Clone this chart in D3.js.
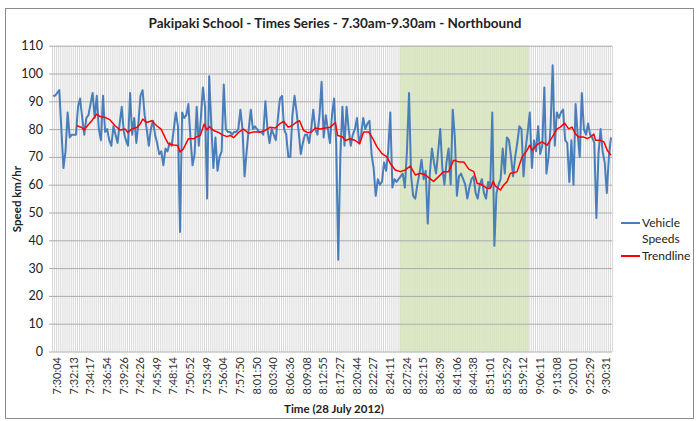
<!DOCTYPE html>
<html><head><meta charset="utf-8">
<script src="https://cdn.jsdelivr.net/npm/d3@7"></script>
<style>body{margin:0;background:#fff;} svg{display:block;font-family:Lato,"Open Sans",sans-serif;}</style>
</head><body>
<svg id="c" width="699" height="421"></svg>
<script>
// Vehicle speeds (km/hr), one per vehicle, in time order
const speeds = [92,92,93,94,80,66,72,86,77,78,78,78,88,91,84,78,84,85,89,93,
84,92,80,76,92,79,80,76,74,81,78,75,82,88,79,76,74,93,78,84,
75,82,92,94,85,80,74,80,83,78,75,71,72,67,73,72,75,74,80,86,
81,43,86,84,85,89,77,67,71,88,74,84,95,88,55,99,82,66,77,65,
70,72,96,80,79,79,78,79,79,80,87,80,63,72,80,87,80,81,80,79,
79,78,90,80,75,80,78,76,84,91,92,80,78,70,70,85,92,86,79,71,
75,78,78,75,80,87,80,78,85,97,77,85,80,75,85,91,75,33,70,88,
74,88,80,74,78,80,84,75,78,84,80,82,83,71,66,56,62,60,61,68,
65,72,86,59,62,61,62,63,64,59,72,93,63,56,55,60,64,69,62,65,
46,64,73,68,64,72,80,66,60,68,73,60,87,77,56,63,64,62,60,55,
59,62,63,57,55,60,62,57,55,61,59,86,38,57,60,62,73,64,77,76,
70,63,70,75,81,80,63,73,79,86,66,76,72,81,71,74,95,64,70,81,
103,74,86,84,86,87,76,75,61,76,60,89,78,70,93,80,78,82,78,77,
75,48,71,80,72,68,57,70,77];
// Trendline (moving average) read at sampled category indices
const trendIdx = [11.4,13.8,14.9,16.5,18.6,21,22.6,25,27.4,29.8,32.2,34.6,35.9,37.8,40.2,41.8,43.1,45,47.4,49.8,
51.9,54.1,55.4,57.8,59.9,61,62.6,65,67.5,69.1,70.7,72.6,73.9,75.1,77.1,79.5,81.1,83.5,85.1,86.7,
89.1,91.5,93.9,96.3,99.5,101.9,104.3,106.7,109.1,110.7,113,114.7,116.8,118.4,120.4,122.3,124.3,125.9,128.3,130.8,
133.2,135.6,136.7,138.8,140.4,142.8,145.2,147.3,149.2,151.6,153.7,155.6,158,160.4,162,164.4,166.8,169.2,171.6,174,
176.4,178.8,180.9,182.8,185.2,187.6,190,192.4,194.9,197.3,199.7,202.1,203.7,206.1,208.5,210.1,211.4,212.5,214.9,216.5,
218.1,219.7,221.3,222.9,225.3,227.7,229,230.1,232.5,234.9,237.3,239.7,242.1,243.7,245.7,247.7,249.3,250.9,252.5,254.6,
256.6,258.2,259.8,260.6,262.7,264.6,266.2,268];
const trendVals = [81.2,80.6,79.7,81.2,83,85.4,84.5,84.2,83.3,81.2,79.7,80,78.8,80,80.6,81.8,83.6,82.4,83,81.2,
80,76.5,74.7,74.3,74.1,71.8,72.9,76.5,76.5,77.3,77.7,81.8,79.7,80.9,79.5,78.8,78,77.3,77.7,76.9,
78.8,80,78.5,79,79,79.5,80.7,80.4,82,82.8,80.7,81.2,82.4,83,79.5,78.7,79,80.4,80,80.4,
80.7,82.4,77.7,77.3,75.9,76.5,75.9,74.7,79,79,76.5,73.6,71.2,70,67.6,65.3,64.7,65.3,66.7,63.5,
64.1,63.5,62.3,61.2,62.9,64.7,64.7,68.8,68.2,68.2,65.6,64.7,60.5,59.9,58.7,58.7,61.2,59.5,58.1,59.9,
61.1,64.1,64.3,64.7,70,72.4,74.2,72.4,74.4,75.4,74.2,77,80.1,80.7,82.2,80.1,80.7,78.3,77.2,77.2,
76.6,77.2,78.2,76,76,75.4,72.4,70.6];
// Category axis labels (every 8th vehicle)
const timeLabels = ["7:30:04","7:32:13","7:34:17","7:36:54","7:39:26","7:42:26","7:45:49","7:48:14","7:50:52","7:53:49",
"7:56:04","7:57:50","8:01:50","8:03:40","8:06:36","8:09:08","8:12:55","8:17:27","8:20:44","8:22:27",
"8:24:11","8:27:24","8:32:15","8:36:39","8:41:06","8:44:38","8:51:01","8:55:29","8:59:12","9:06:11",
"9:13:08","9:20:01","9:25:29","9:30:31"];
const labelStep = 8;
const highlight = [167, 229]; // shaded school-zone categories
const yTicks = [0,10,20,30,40,50,60,70,80,90,100,110];

const svg = d3.select("#c");
const N = speeds.length;
const L = 52, R = 612, T = 45.7, B = 351.5;
const x = d3.scaleLinear().domain([0, N]).range([L, R]);
const y = d3.scaleLinear().domain([0, 110]).range([B, T]);
const cx = i => x(i + 0.5);

// chart border
svg.append("rect").attr("x",5.5).attr("y",8.5).attr("width",688).attr("height",410)
  .attr("fill","#fff").attr("stroke","#8c8c8c").attr("stroke-width",1);

// vertical gridlines
svg.append("g").attr("transform",`translate(0,${B})`)
  .call(d3.axisBottom(x).tickValues(d3.range(N+1)).tickSize(-(B-T)).tickFormat(""))
  .call(g=>{g.select(".domain").remove(); g.selectAll("line").attr("stroke","#c6c6c6").attr("stroke-width",0.7);});

// highlighted region
svg.append("rect").attr("x", x(highlight[0])).attr("width", x(highlight[1])-x(highlight[0]))
  .attr("y", y(110)).attr("height", y(0)-y(110)).attr("fill","#d8e4c0");
svg.append("g").selectAll("line").data(d3.range(highlight[0]+1, highlight[1])).join("line")
  .attr("x1", i => x(i)).attr("x2", i => x(i)).attr("y1", y(110)).attr("y2", y(0))
  .attr("stroke","#eef4e2").attr("stroke-width",0.35);

// horizontal gridlines + y labels
svg.append("g").attr("transform",`translate(${L},0)`)
  .call(d3.axisLeft(y).tickValues(yTicks).tickSize(-(R-L)).tickPadding(9))
  .call(g=>{g.select(".domain").remove();
    g.selectAll("line").attr("stroke","#ababab").attr("stroke-width",1).attr("x1",-3);
    g.selectAll("text").attr("font-size",12.5).attr("fill","#222").attr("font-family","Lato");});

// x labels
svg.append("g").selectAll("text").data(timeLabels).join("text")
  .attr("transform",(d,k)=>`translate(${cx(k*labelStep)+4},357) rotate(-90)`)
  .attr("text-anchor","end").attr("dy","0.35em").attr("font-size",11).attr("fill","#333").text(d=>d);

// vehicle speeds
svg.append("path").datum(speeds)
  .attr("d", d3.line().x((d,i)=>cx(i)).y(d=>y(d)))
  .attr("fill","none").attr("stroke","#4a7ebb").attr("stroke-width",2).attr("stroke-linejoin","round");

// trendline
svg.append("path").datum(trendIdx.map((t,k)=>[t,trendVals[k]]))
  .attr("d", d3.line().x(d=>cx(d[0])).y(d=>y(d[1])))
  .attr("fill","none").attr("stroke","#ff0000").attr("stroke-width",1.5).attr("stroke-linejoin","round");

// title
svg.append("text").attr("x",335).attr("y",28).attr("text-anchor","middle")
  .attr("font-weight","bold").attr("font-size",13.5).attr("fill","#222")
  .text("Pakipaki School - Times Series - 7.30am-9.30am - Northbound");
// axis titles
svg.append("text").attr("transform","translate(21,199) rotate(-90)").attr("text-anchor","middle")
  .attr("font-weight","bold").attr("font-size",11.5).attr("fill","#222").text("Speed km/hr");
svg.append("text").attr("x",334).attr("y",413).attr("text-anchor","middle")
  .attr("font-weight","bold").attr("font-size",11.5).attr("fill","#222").text("Time (28 July 2012)");

// legend
const lg = svg.append("g");
lg.append("line").attr("x1",621).attr("x2",640).attr("y1",223).attr("y2",223).attr("stroke","#4a7ebb").attr("stroke-width",2);
lg.append("text").attr("x",642).attr("y",227).attr("font-size",12).attr("fill","#222").text("Vehicle");
lg.append("text").attr("x",642).attr("y",243).attr("font-size",12).attr("fill","#222").text("Speeds");
lg.append("line").attr("x1",621).attr("x2",640).attr("y1",256).attr("y2",256).attr("stroke","#ff0000").attr("stroke-width",2);
lg.append("text").attr("x",642).attr("y",260).attr("font-size",12).attr("fill","#222").text("Trendline");
</script>
</body></html>
